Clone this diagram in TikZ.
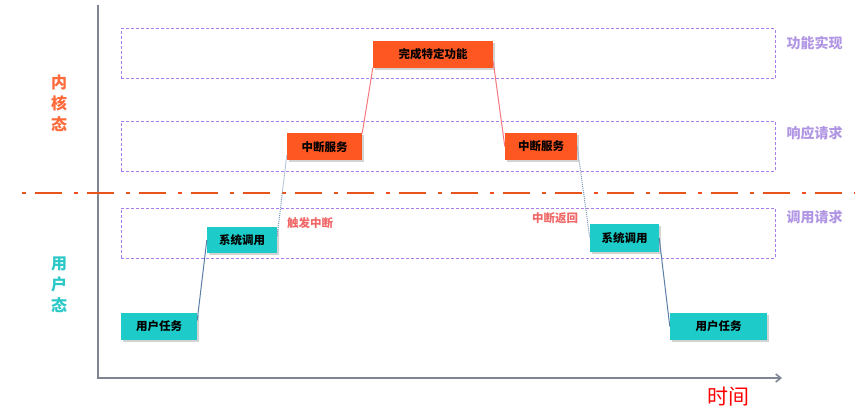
\documentclass[tikz,border=0pt]{standalone}
\usepackage{fontspec}
\setmainfont{Noto Sans CJK SC}
\usetikzlibrary{arrows.meta,positioning,shadows}
\definecolor{kern}{HTML}{FF5722}
\definecolor{kerntxt}{HTML}{FF6A3A}
\definecolor{usr}{HTML}{1DCBC8}
\definecolor{usrtxt}{HTML}{2CC8C8}
\definecolor{bandc}{HTML}{A97CEC}
\definecolor{bandtxt}{HTML}{B196E4}
\definecolor{trig}{HTML}{F06868}
\definecolor{axisc}{HTML}{7E8593}
\definecolor{split}{HTML}{E8521C}
\definecolor{link}{HTML}{5A7EA6}
\definecolor{linkr}{HTML}{F4777E}

\begin{document}
\begin{tikzpicture}[x=1pt,y=-1pt,
  box/.style={minimum height=27pt,inner sep=0pt,font=\fontsize{11.5}{13}\selectfont\bfseries,
    drop shadow={shadow xshift=2pt,shadow yshift=-2pt,opacity=.35}},
  kbox/.style={box,fill=kern},
  ubox/.style={box,fill=usr},
  band/.style={draw=bandc,dash pattern=on 3pt off 2pt,line width=1pt,
    minimum width=654pt,minimum height=50pt,inner sep=0pt},
  bandlbl/.style={text=bandtxt,font=\fontsize{14}{16}\selectfont\bfseries,inner sep=0pt,anchor=west},
  side/.style={font=\fontsize{16}{21}\selectfont\bfseries,align=center,inner sep=0pt},
  trigger/.style={text=trig,font=\fontsize{11.5}{13}\selectfont\bfseries,inner sep=0pt},
  solidlink/.style={link,line width=1pt},
  dotlink/.style={link!80,line width=1pt,dash pattern=on 1pt off 1pt},
  redlink/.style={linkr,line width=1pt}]
  \useasboundingbox (0,0) rectangle (862,411);
  % axes
  \coordinate (ytop) at (98,5); \coordinate (orig) at (98,378); \coordinate (tend) at (782,378);
  \draw[axisc,line width=1.6pt,-{Straight Barb[length=5pt,width=8pt]}] (ytop) -- (orig) -- (tend);
  \node[text=red,font=\fontsize{21}{24}\selectfont,inner sep=0pt] (tm) at (728,397) {时间};
  % kernel / user split
  \coordinate (sl) at (22,193); \coordinate (sr) at (855,193);
  \draw[split,line width=2.8pt,dash pattern=on 4pt off 9pt on 27pt off 12pt] (sl) -- (sr);
  \node[side,text=kerntxt] (kl) at (59,103) {内\\核\\态};
  \node[side,text=usrtxt] (ul) at (59,285) {用\\户\\态};
  % the three bands
  \node[band] (b1) at (448,54) {};
  \node[band] (b2) at (448,146.5) {};
  \node[band] (b3) at (448,233.5) {};
  \node[bandlbl] (l1) at ([xshift=11pt,yshift=-15pt]b1.north east) {功能实现};
  \node[bandlbl] (l2) at ([xshift=11pt,yshift=-12pt]b2.north east) {响应请求};
  \node[bandlbl] (l3) at ([xshift=11pt,yshift=-9pt]b3.north east) {调用请求};
  % steps
  \node[ubox,minimum width=76pt] (ut1) at (159,326.5) {用户任务};
  \node[ubox,minimum width=70pt,minimum height=26pt] (sc1) at (242,240) {系统调用};
  \node[kbox,minimum width=75pt] (zd1) at (324.5,147) {中断服务};
  \node[kbox,minimum width=120pt] (wc) at (433,54.5) {完成特定功能};
  \node[kbox,minimum width=72pt] (zd2) at (541,146.5) {中断服务};
  \node[ubox,minimum width=69pt,minimum height=28pt] (sc2) at (624.5,238) {系统调用};
  \node[ubox,minimum width=97pt] (ut2) at (718.5,326.5) {用户任务};
  \node[trigger] (tr) at (310,223) {触发中断};
  \node[trigger] (rt) at (555,218) {中断返回};
  % links
  \draw[solidlink] ([yshift=6pt]ut1.east) -- (sc1.west);
  \draw[dotlink] ([yshift=4pt]sc1.east) -- ([yshift=-8pt]zd1.west);
  \draw[redlink] (zd1.north east) -- (wc.south west);
  \draw[redlink] ([yshift=-7pt]wc.east) -- (zd2.west);
  \draw[dotlink] (zd2.east) -- (sc2.west);
  \draw[solidlink] (sc2.east) -- (ut2.west);
\end{tikzpicture}
\end{document}
